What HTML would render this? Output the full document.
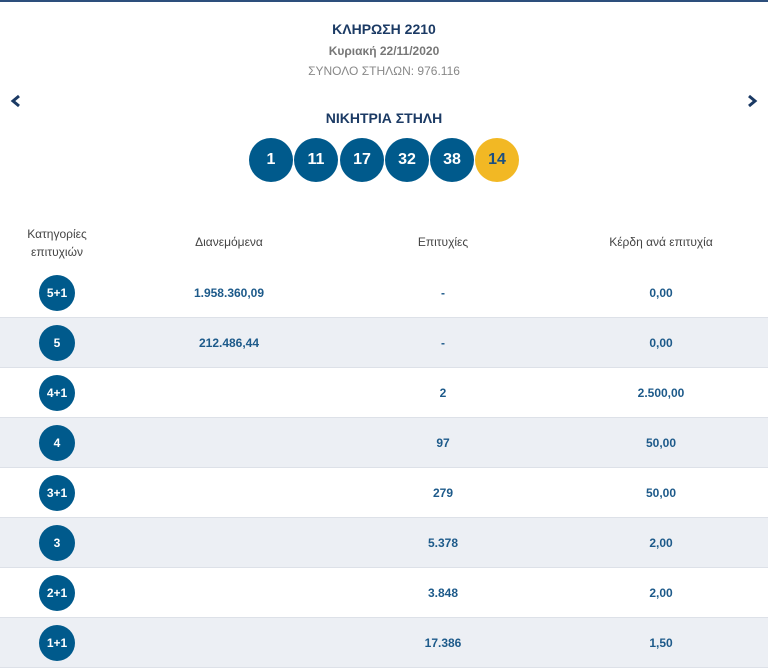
<!DOCTYPE html>
<html><head><meta charset="utf-8"><style>
body{margin:0;width:768px;height:672px;overflow:hidden;background:#fff;font-family:"Liberation Sans",Arial,sans-serif;position:relative}
.a{position:absolute;text-align:center}
.top{position:absolute;left:0;top:0;width:768px;height:2px;background:#2d4f7c}
.ball{position:absolute;width:44px;height:44px;border-radius:50%;background:#005a8c;color:#fff;font-weight:bold;font-size:16px;line-height:44px;text-align:center}
.row{position:absolute;left:0;width:768px;height:50px;border-bottom:1px solid #dde1e8;box-sizing:border-box}
.row.alt{background:#eceff4}
.cat{position:absolute;left:39px;top:7px;width:36px;height:36px;border-radius:50%;background:#005a8c;color:#fff;font-weight:bold;font-size:12px;line-height:36px;text-align:center}
.c{position:absolute;top:0;line-height:50px;font-weight:bold;font-size:12px;color:#1d5a8a;text-align:center}
.h{position:absolute;font-size:12px;color:#444;text-align:center;line-height:18px}
</style></head><body>
<div class="top"></div>
<div class="a" style="left:0;width:768px;top:21px;font-size:14px;font-weight:bold;color:#1b3a64">ΚΛΗΡΩΣΗ 2210</div>
<div class="a" style="left:0;width:768px;top:44px;font-size:12px;font-weight:bold;color:#777">Κυριακή 22/11/2020</div>
<div class="a" style="left:0;width:768px;top:64px;font-size:12px;color:#888">ΣΥΝΟΛΟ ΣΤΗΛΩΝ: 976.116</div>
<svg style="position:absolute;left:10px;top:94px" width="12" height="14"><polyline points="9,2 3,7 9,12" fill="none" stroke="#1b3a64" stroke-width="3"/></svg>
<svg style="position:absolute;left:746px;top:94px" width="12" height="14"><polyline points="3,2 9,7 3,12" fill="none" stroke="#1b3a64" stroke-width="3"/></svg>
<div class="a" style="left:0;width:768px;top:110px;font-size:14px;font-weight:bold;color:#1b3a64">ΝΙΚΗΤΡΙΑ ΣΤΗΛΗ</div>
<div class="ball" style="left:249px;top:138px">1</div>
<div class="ball" style="left:294px;top:138px">11</div>
<div class="ball" style="left:340px;top:138px">17</div>
<div class="ball" style="left:385px;top:138px">32</div>
<div class="ball" style="left:430px;top:138px">38</div>
<div class="ball" style="left:475px;top:138px;background:#f2b824;color:#1b4f80">14</div>
<div class="h" style="left:7px;width:100px;top:225px">Κατηγορίες<br>επιτυχιών</div>
<div class="h" style="left:159px;width:140px;top:233px">Διανεμόμενα</div>
<div class="h" style="left:373px;width:140px;top:233px">Επιτυχίες</div>
<div class="h" style="left:581px;width:160px;top:233px">Κέρδη ανά επιτυχία</div>
<div id="tbl"></div>
<script>
const cats=["5+1","5","4+1","4","3+1","3","2+1","1+1"];
const dist=["1.958.360,09","212.486,44","","","","","",""];
const wins=["-","-","2","97","279","5.378","3.848","17.386"];
const prize=["0,00","0,00","2.500,00","50,00","50,00","2,00","2,00","1,50"];
const t=document.getElementById('tbl');
cats.forEach((c,i)=>{
 const r=document.createElement('div');
 r.className='row'+(i%2?' alt':'');
 r.style.top=(268+i*50)+'px';
 
 
 r.innerHTML='<div class="cat">'+c+'</div>'+
 '<div class="c" style="left:159px;width:140px">'+dist[i]+'</div>'+
 '<div class="c" style="left:373px;width:140px">'+wins[i]+'</div>'+
 '<div class="c" style="left:581px;width:160px">'+prize[i]+'</div>';
 t.appendChild(r);
});
</script>
</body></html>
